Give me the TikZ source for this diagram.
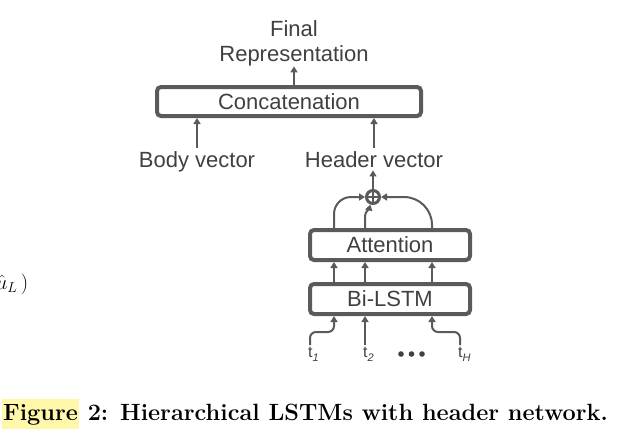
\documentclass[tikz,border=0pt]{standalone}
\usepackage{fontspec}
\newfontfamily\diafont{Liberation Sans}
\usetikzlibrary{arrows.meta,calc}
\definecolor{lc}{RGB}{90,90,90}
\definecolor{tc}{RGB}{64,64,64}
\definecolor{hl}{RGB}{255,248,170}
\newcommand{\tsub}[1]{\raisebox{-4pt}{\fontsize{11}{11}\selectfont\itshape #1}}
\begin{document}
\begin{tikzpicture}[x=1pt,y=-1pt,
  lbl/.style={font=\diafont\fontsize{22}{25.5}\selectfont, text=tc, inner sep=0pt},
  blk/.style={draw=lc, line width=4pt, rounded corners=4pt, minimum width=160pt, minimum height=30pt, inner sep=0pt, font=\diafont\fontsize{22}{25.5}\selectfont, text=tc},
  arr/.style={draw=lc, line width=2pt, -{Triangle[length=6pt,width=7pt]}},
  tlbl/.style={font=\diafont\fontsize{16}{16}\selectfont, text=tc, inner sep=0pt, anchor=north west}]
\useasboundingbox (0,0) rectangle (617,442);
\clip (0,0) rectangle (617,442);
% nodes
\node[lbl, align=center, anchor=north] (final) at (294,20) {Final\\Representation};
\node[blk, minimum width=264pt, minimum height=29pt] (concat) at (289,101.5) {Concatenation};
\node[lbl, anchor=base, inner sep=3pt] (body) at (197,167) {Body vector};
\node[lbl, anchor=base, inner sep=3pt] (header) at (374,167) {Header vector};
\node[circle, draw=lc, line width=3pt, minimum size=13pt, inner sep=0pt] (plus) at (373,197) {};
\draw[lc, line width=2pt] (plus.north) -- (plus.south) (plus.west) -- (plus.east);
\node[blk] (attn) at (390,245) {Attention};
\node[blk] (lstm) at (390,299) {Bi-LSTM};
\node[tlbl] (t1) at (308,347) {t\tsub{1}};
\node[tlbl] (t2) at (363,347) {t\tsub{2}};
\node[tlbl] (tH) at (458,347) {t\tsub{H}};
\foreach \x in {401,411.5,422} \fill[tc] (\x,354) circle (2.8);
\coordinate (c1) at (334,0);
\coordinate (c2) at (365,0);
\coordinate (c3) at (432,0);
% connectors
\draw[arr] (final.south |- concat.north) -- (final.south);
\draw[arr] (body.north) -- (body.north |- concat.south);
\draw[arr] (header.north) -- (header.north |- concat.south);
\draw[arr] (plus.north) -- (plus.north |- header.south);
\draw[arr, rounded corners=17pt] (attn.north -| c1) |- (plus.west);
\draw[arr, rounded corners=28pt] (attn.north -| c3) |- (plus.east);
\draw[arr] (attn.north -| c2) -- ++(0,-12) .. controls +(0,-4) and +(-1,4) .. (plus.250);
\foreach \c in {c1,c2,c3} \draw[arr] (lstm.north -| \c) -- (attn.south -| \c);
\draw[arr, rounded corners=6pt] ($(t1.north west)+(2,-2)$) |- ($(lstm.south -| c1)+(0,16)$) -- (lstm.south -| c1);
\draw[arr] ($(t2.north west)+(2,-2)$) -- (lstm.south -| c2);
\draw[arr, rounded corners=6pt] ($(tH.north west)+(2,-2)$) |- ($(lstm.south -| c3)+(0,16)$) -- (lstm.south -| c3);
% partial formula at the left edge
\node[anchor=base east, inner sep=0pt, font=\fontsize{20.74}{24}\selectfont] (uhat) at (28.5,289) {$\hat{u}_{L}\mkern3mu)$};
% caption
\node[anchor=base west, inner sep=0pt, font=\fontsize{23.5}{28}\selectfont\bfseries] (caption) at (2,420) {\setlength{\fboxsep}{1pt}\colorbox{hl}{\strut Figure} 2: Hierarchical LSTMs with header network.};
\end{tikzpicture}
\end{document}
